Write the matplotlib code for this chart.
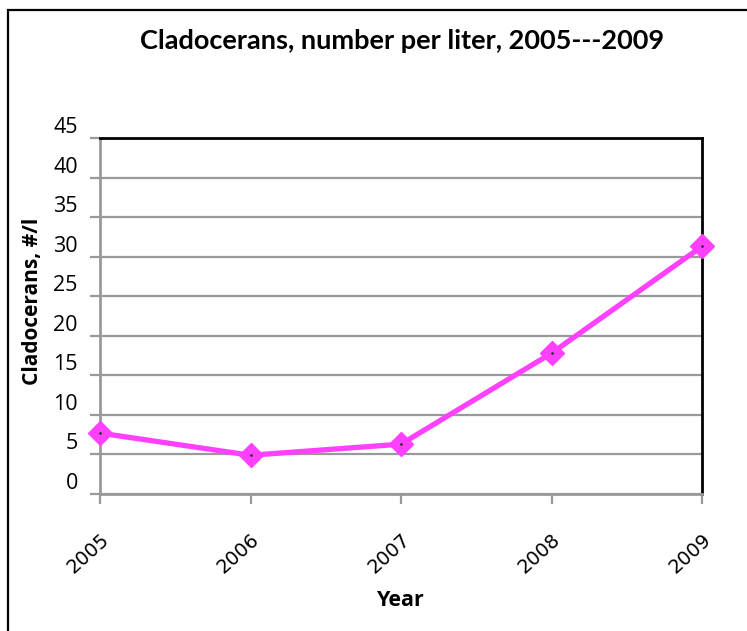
import matplotlib.pyplot as plt
from matplotlib.patches import Rectangle

# data
years = ['2005', '2006', '2007', '2008', '2009']
cladocerans = [7.7, 4.9, 6.3, 17.8, 31.3]
y_ticks = [0, 5, 10, 15, 20, 25, 30, 35, 40, 45]

fig = plt.figure(figsize=(7.47, 6.31), dpi=100)
ax = fig.add_axes([0.1339, 0.2171, 0.8059, 0.5642])

x = list(range(len(years)))
ax.plot(x, cladocerans, color='#FF40FF', linewidth=3.8, marker='D',
        markersize=12, markeredgecolor='#FF40FF', zorder=3, clip_on=False)
ax.plot(x, cladocerans, linestyle='none', marker='.', markersize=2,
        color='#333333', zorder=4, clip_on=False)

ax.set_xlim(0, len(years) - 1)
ax.set_ylim(0, 45)
ax.set_xticks(x)
ax.set_xticklabels(years, rotation=42, ha='right', rotation_mode='anchor',
                   fontsize=14, family='DejaVu Sans')
ax.set_yticks(y_ticks)
# labels sit a bit above their gridlines in the original
ax.set_yticklabels([str(v) for v in y_ticks], fontsize=15.5, family='Open Sans',
                   va='bottom')

ax.grid(axis='y', color='#999999', linewidth=1.6)
ax.set_axisbelow(True)
ax.tick_params(axis='both', color='#999999', width=1.6, length=7, direction='out')
ax.tick_params(axis='y', pad=9)
ax.tick_params(axis='x', pad=19)

for side in ['left', 'bottom']:
    ax.spines[side].set_color('#999999')
    ax.spines[side].set_linewidth(2)
for side in ['top', 'right']:
    ax.spines[side].set_color('black')
    ax.spines[side].set_linewidth(2)

ax.set_ylabel('Cladocerans, #/l', fontsize=15, fontweight='bold', family='Open Sans')
ax.yaxis.set_label_coords(-0.094, 0.54)
ax.set_xlabel('Year', fontsize=15.5, fontweight='bold', family='Open Sans', labelpad=9)

fig.text(0.538, 0.935, 'Cladocerans, number per liter, 2005---2009', ha='center', va='center',
         fontsize=19.5, fontweight='bold', family='Lato')

# outer chart border (cut off at right and bottom)
fig.patches.append(Rectangle((8 / 747, -0.1), 1.2, 1.1 - 10 / 631, transform=fig.transFigure,
                             fill=False, edgecolor='black', linewidth=1.6))

fig.savefig('out.png', dpi=100)
